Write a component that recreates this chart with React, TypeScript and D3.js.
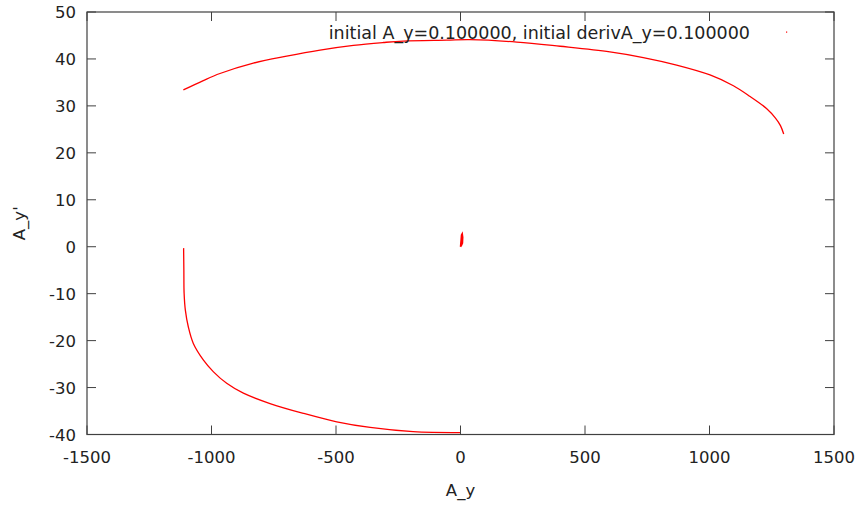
import React from "react";
import * as d3 from "d3";

const xTicks = [-1500, -1000, -500, 0, 500, 1000, 1500];
const yTicks = [-40, -30, -20, -10, 0, 10, 20, 30, 40, 50];

const upperX = [-1113, -1033, -966, -832, -698, -564, -430, -310, -230, -55, 38, 226, 400, 600, 734, 868, 1002, 1096, 1163, 1230, 1265, 1285, 1298];
const upperY = [33.4, 35.4, 36.9, 39.1, 40.6, 41.9, 42.9, 43.5, 43.8, 44.0, 44.1, 43.6, 42.7, 41.5, 40.3, 38.7, 36.6, 34.3, 32.0, 29.4, 27.4, 25.8, 24.0];

const lowerX = [-1112, -1111, -1110, -1105, -1093, -1073, -1033, -993, -939, -872, -765, -631, -497, -363, -190, -2];
const lowerY = [-0.3, -5, -9.9, -13.5, -17.1, -20.6, -24.1, -26.6, -29.1, -31.2, -33.4, -35.5, -37.3, -38.5, -39.4, -39.6];

const blipX = [0, 4, 8, 9, 7, 4, 2, 0];
const blipY = [0, 0.3, 0.8, 2.0, 2.8, 2.5, 1.2, 0];

const legendLabel = "initial A_y=0.100000, initial derivA_y=0.100000";

export default function App() {
  const W = 862, H = 505;
  const L = 87, R = 834, T = 12, B = 434.5;
  const x = d3.scaleLinear().domain([-1500, 1500]).range([L, R]);
  const y = d3.scaleLinear().domain([-40, 50]).range([B, T]);
  const line = d3.line<[number, number]>().x(d => x(d[0])).y(d => y(d[1])).curve(d3.curveCatmullRom.alpha(0.5));
  const lineLin = d3.line<[number, number]>().x(d => x(d[0])).y(d => y(d[1]));
  const up = upperX.map((v, i) => [v, upperY[i]] as [number, number]);
  const lo = lowerX.map((v, i) => [v, lowerY[i]] as [number, number]);
  const bl = blipX.map((v, i) => [v, blipY[i]] as [number, number]);
  const frame = "#404040";
  const font = "DejaVu Sans, sans-serif";
  const tl = 9;
  return (
    <svg width={W} height={H} style={{ position: "absolute", left: 0, top: 0, background: "#fff" }} fontFamily={font}>
      <rect x={0} y={0} width={W} height={H} fill="#fff" />
      {xTicks.map(t => (
        <g key={"x" + t}>
          <line x1={x(t)} x2={x(t)} y1={B} y2={B - tl} stroke={frame} strokeWidth={1} />
          <line x1={x(t)} x2={x(t)} y1={T} y2={T + tl} stroke={frame} strokeWidth={1} />
          <text x={x(t)} y={463} textAnchor="middle" fontSize={16.5} fill="#222">{t}</text>
        </g>
      ))}
      {yTicks.map(t => (
        <g key={"y" + t}>
          <line x1={L} x2={L + tl} y1={y(t)} y2={y(t)} stroke={frame} strokeWidth={1} />
          <line x1={R} x2={R - tl} y1={y(t)} y2={y(t)} stroke={frame} strokeWidth={1} />
          <text x={76} y={y(t) + 6} textAnchor="end" fontSize={16.5} fill="#222">{t}</text>
        </g>
      ))}
      <rect x={L} y={T} width={R - L} height={B - T} fill="none" stroke={frame} strokeWidth={1.2} />
      <path d={line(up) || ""} fill="none" stroke="#ff0000" strokeWidth={1.3} />
      <path d={line(lo) || ""} fill="none" stroke="#ff0000" strokeWidth={1.3} />
      <path d={lineLin(bl) || ""} fill="#ff0000" stroke="#ff0000" strokeWidth={1.5} />
      <text x={750} y={38.5} textAnchor="end" fontSize={17.5} fill="#222">{legendLabel}</text>
      <rect x={786} y={31.5} width={1.2} height={1.2} fill="#ff0000" />
      <text x={x(0)} y={496} textAnchor="middle" fontSize={16.5} fill="#222">A_y</text>
      <text transform={`translate(25,${(T + B) / 2}) rotate(-90)`} textAnchor="middle" fontSize={16.5} fill="#222">A_y'</text>
    </svg>
  );
}
